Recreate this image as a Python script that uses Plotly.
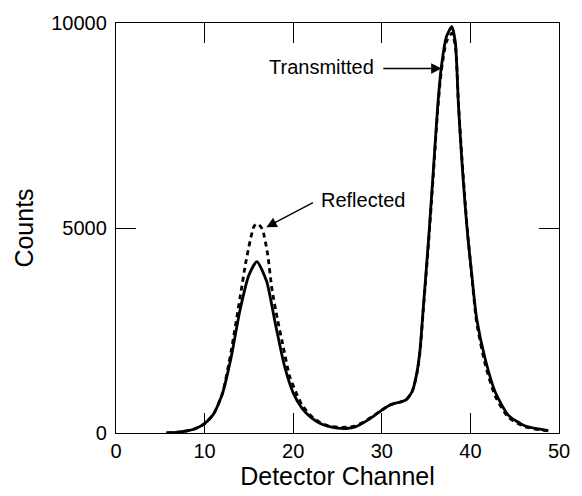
import plotly.graph_objects as go

# Transmitted (solid)
trans_x = [5.7, 7, 8, 9, 10, 11, 12, 13, 14, 15, 15.9, 17, 18, 19, 20, 21, 22, 23, 24, 25, 26, 27, 28, 29, 30,
           31, 32, 32.7, 33.4, 33.9, 34.3, 34.7, 35.3, 35.8, 36.3, 36.7, 37.3, 37.9, 38.3, 38.65, 39.0, 39.4,
           39.7, 40.1, 40.7, 41.7, 42.8, 44.3, 46.2, 48.8]
trans_y = [0, 20, 50, 110, 230, 460, 950, 1850, 3000, 3850, 4180, 3700, 2650, 1650, 980, 600, 380, 240, 160,
           120, 110, 150, 260, 400, 560, 690, 750, 800, 1000, 1400, 2000, 3100, 4790, 6350, 7940, 8890, 9670,
           9910, 9530, 8000, 6750, 5570, 4800, 3980, 2800, 1780, 1000, 430, 170, 60]

# Reflected (dashed)
refl_x = [5.7, 7, 8, 9, 10, 11, 12, 13, 14, 14.7, 15.6, 16, 16.5, 17.1, 17.6, 18.2, 18.8, 19.6, 20.3, 21, 22,
          23, 24, 25, 26, 27, 28, 29, 30, 31, 32, 32.7, 33.4, 33.9, 34.3, 34.7, 35.3, 35.8, 36.3, 36.7, 37.3,
          37.9, 38.3, 38.65, 39.0, 39.4, 39.7, 40.1, 40.7, 41.7, 42.8, 44.3, 46.2, 48.8]
refl_y = [0, 20, 50, 110, 230, 460, 950, 2000, 3300, 4220, 5050, 5100, 4980, 4380, 3510, 2800, 2180, 1380,
          1000, 680, 420, 260, 170, 140, 140, 170, 270, 410, 560, 690, 750, 800, 1000, 1380, 1950, 3050, 4700,
          6250, 7850, 8800, 9550, 9750, 9450, 8050, 6850, 5650, 4850, 3950, 2700, 1650, 900, 380, 150, 50]

x_ticks = [0, 10, 20, 30, 40, 50]
y_ticks = [0, 5000, 10000]

FONT = "Liberation Sans, Arial, Helvetica, sans-serif"

fig = go.Figure()
fig.add_trace(go.Scatter(x=refl_x, y=refl_y, mode="lines", name="Reflected",
                         line=dict(color="black", width=2.8, dash="5px,4px", shape="spline", smoothing=0.6)))
fig.add_trace(go.Scatter(x=trans_x, y=trans_y, mode="lines", name="Transmitted",
                         line=dict(color="black", width=2.8, shape="spline", smoothing=0.6)))

axis_common = dict(showgrid=False, zeroline=False, showline=True, linecolor="black", linewidth=1.3,
                   mirror="ticks", ticks="inside", ticklen=20, tickwidth=1.3, tickcolor="black",
                   tickfont=dict(family=FONT, size=20, color="black"))

fig.update_xaxes(range=[0, 50], tickvals=x_ticks, ticktext=[str(v) for v in x_ticks],
                 title=dict(text="Detector Channel", font=dict(family=FONT, size=25, color="black"), standoff=4),
                 **axis_common)
fig.update_yaxes(range=[0, 10000], tickvals=y_ticks, ticktext=[str(v) for v in y_ticks],
                 title=dict(text="Counts", font=dict(family=FONT, size=25, color="black"), standoff=10),
                 ticklabelstandoff=4, **axis_common)

# Labels
fig.add_annotation(x=29.3, y=8935, xref="x", yref="y", text="Transmitted", showarrow=False,
                   xanchor="right", yanchor="middle", font=dict(family=FONT, size=20, color="black"))
fig.add_annotation(x=36.75, y=8890, ax=30.0, ay=8890, xref="x", yref="y", axref="x", ayref="y",
                   text="", showarrow=True, arrowhead=2, arrowsize=1.6, arrowwidth=1.3, arrowcolor="black")
fig.add_annotation(x=22.9, y=5690, xref="x", yref="y", text="Reflected", showarrow=False,
                   xanchor="left", yanchor="middle", font=dict(family=FONT, size=20, color="black"))
fig.add_annotation(x=16.97, y=5020, ax=22.4, ay=5640, xref="x", yref="y", axref="x", ayref="y",
                   text="", showarrow=True, arrowhead=2, arrowsize=1.6, arrowwidth=1.3, arrowcolor="black")

fig.update_layout(width=582, height=496, margin=dict(l=116, r=21, t=13, b=61),
                  paper_bgcolor="white", plot_bgcolor="white", showlegend=False,
                  font=dict(family=FONT, color="black"))

fig.write_html("out.html")
